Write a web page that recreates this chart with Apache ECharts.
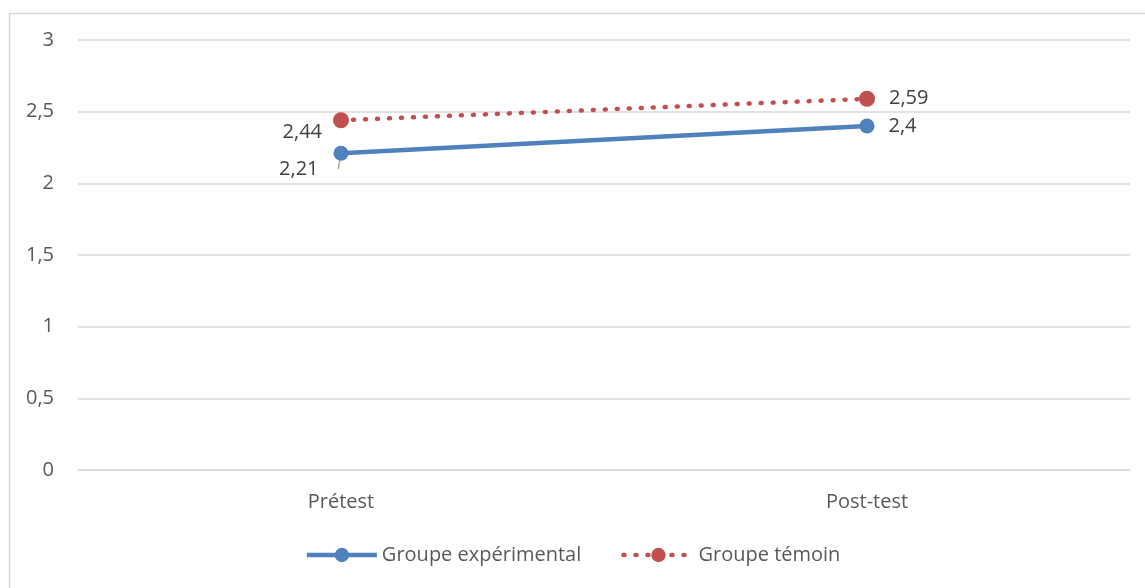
<!DOCTYPE html>
<html>
<head>
<meta charset="utf-8">
<script src="https://cdn.jsdelivr.net/npm/echarts@6/dist/echarts.min.js"></script>
<style>
  html, body { margin: 0; padding: 0; background: #fff; }
  #chart { width: 1145px; height: 588px; }
</style>
</head>
<body>
<div id="chart"></div>
<script>
const categories = ['Prétest', 'Post-test'];
const seriesNames = ['Groupe expérimental', 'Groupe témoin'];
const experimental = [2.21, 2.4];
const control = [2.44, 2.59];
const yTicks = [0, 0.5, 1, 1.5, 2, 2.5, 3];

const FONT = '"Open Sans", sans-serif';
const FS = 20;
const fmt = v => String(v).replace('.', ',');

const chart = echarts.init(document.getElementById('chart'), null, { renderer: 'canvas' });

function valueLabel(pos, offset) {
  return {
    show: true,
    position: pos,
    offset: offset,
    fontFamily: FONT,
    fontSize: FS,
    color: '#404040',
    formatter: p => fmt(p.value)
  };
}

chart.setOption({
  backgroundColor: '#fff',
  animation: false,
  graphic: [{
    type: 'rect',
    left: 7, top: 11,
    shape: { width: 1160, height: 600 },
    style: { fill: 'none', stroke: '#d9d9d9', lineWidth: 1.5 },
    silent: true
  }],
  grid: { left: 78, right: 15, top: 40, bottom: 118 },
  legend: {
    bottom: 18,
    left: 'center',
    itemWidth: 70,
    itemHeight: 18,
    itemGap: 40,
    lineStyle: { width: 4.5 },
    textStyle: { fontFamily: FONT, fontSize: FS, color: '#595959' },
    data: seriesNames
  },
  xAxis: {
    type: 'category',
    data: categories,
    boundaryGap: true,
    axisLine: { show: true, lineStyle: { color: '#d9d9d9', width: 1.5 } },
    axisTick: { show: false },
    axisLabel: { fontFamily: FONT, fontSize: FS, color: '#595959', margin: 22 }
  },
  yAxis: {
    type: 'value',
    min: yTicks[0],
    max: yTicks[yTicks.length - 1],
    interval: yTicks[1] - yTicks[0],
    axisLine: { show: false },
    axisTick: { show: false },
    splitLine: { lineStyle: { color: '#d9d9d9', width: 1.5 } },
    axisLabel: {
      fontFamily: FONT, fontSize: FS, color: '#595959', margin: 24,
      formatter: v => fmt(v)
    }
  },
  series: [
    {
      name: seriesNames[0],
      type: 'line',
      data: [
        {
          value: experimental[0],
          label: valueLabel('left', [-10, 16]),
          labelLine: { show: true, lineStyle: { color: '#a6a6a6', width: 1.5 } }
        },
        { value: experimental[1], label: valueLabel('right', [9, 0]) }
      ],
      symbol: 'circle',
      symbolSize: 15,
      itemStyle: { color: '#4f81bd' },
      lineStyle: { color: '#4f81bd', width: 4.5 },
      z: 2
    },
    {
      name: seriesNames[1],
      type: 'line',
      data: [
        { value: control[0], label: valueLabel('left', [-6, 12]) },
        { value: control[1], label: valueLabel('right', [9, 0]) }
      ],
      symbol: 'circle',
      symbolSize: 16,
      itemStyle: { color: '#c0504d' },
      lineStyle: { color: '#c0504d', width: 4.5, type: [1, 11], cap: 'round' },
      z: 3
    }
  ]
});
</script>
</body>
</html>
